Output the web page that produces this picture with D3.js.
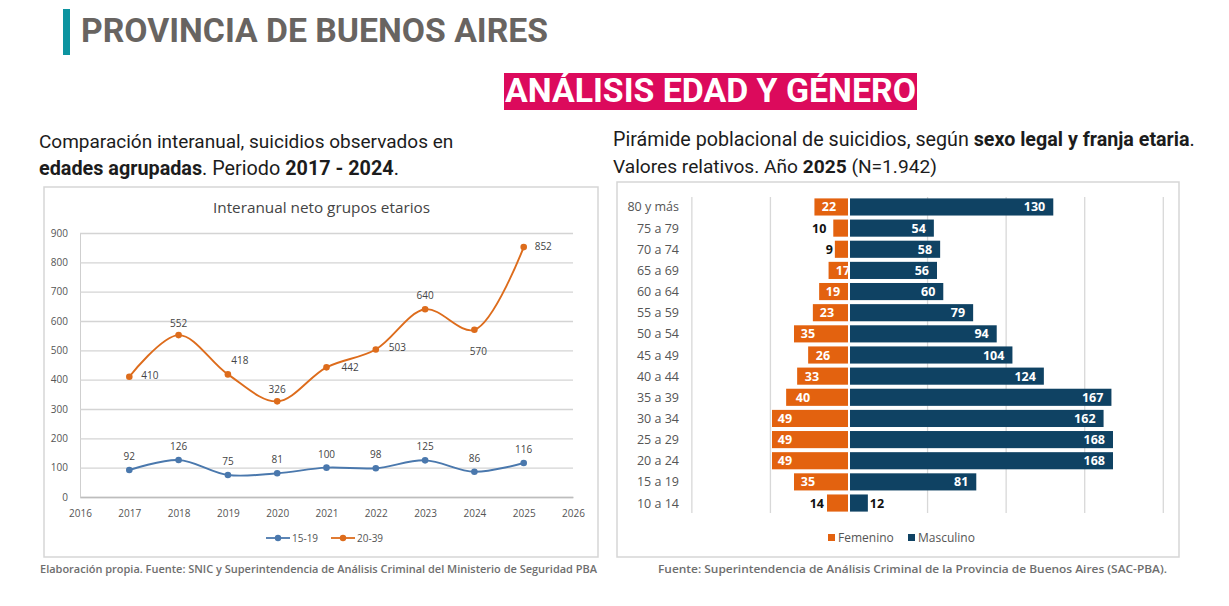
<!DOCTYPE html>
<html><head><meta charset="utf-8">
<script src="https://cdnjs.cloudflare.com/ajax/libs/d3/7.8.5/d3.min.js"></script>
<style>html,body{margin:0;padding:0;background:#fff}svg{display:block}</style></head>
<body><svg id="c" width="1229" height="606"></svg>
<script>
const years=[2017,2018,2019,2020,2021,2022,2023,2024,2025];
const yearTicks=[2016,2017,2018,2019,2020,2021,2022,2023,2024,2025,2026];
const valueTicks=[0,100,200,300,400,500,600,700,800,900];
const group1519=[92,126,75,81,100,98,125,86,116];
const group2039=[410,552,418,326,442,503,640,570,852];
const ageBands=["80 y más","75 a 79","70 a 74","65 a 69","60 a 64","55 a 59","50 a 54","45 a 49","40 a 44","35 a 39","30 a 34","25 a 29","20 a 24","15 a 19","10 a 14"];
const femenino=[22,10,9,13,19,23,35,26,33,40,49,49,49,35,14];
const femeninoLabels=["22","10","9","17","19","23","35","26","33","40","49","49","49","35","14"];
const masculino=[130,54,58,56,60,79,94,104,124,167,162,168,168,81,12];
const pyramidGrid=[-100,-50,50,100,150,200];
const FONT="Roboto,sans-serif", CH="'Open Sans',sans-serif";
const svg=d3.select("#c");
const T=(x,y,s,o={})=>{const t=svg.append("text").attr("x",x).attr("y",y).attr("font-family",o.f||FONT)
 .attr("font-size",o.s||12).attr("font-weight",o.w||400).attr("fill",o.c||"#333").attr("text-anchor",o.a||"start").text(s);
 if(o.len)t.attr("textLength",o.len).attr("lengthAdjust","spacingAndGlyphs");return t;};
const rich=(x,y,parts,s)=>{const t=svg.append("text").attr("x",x).attr("y",y).attr("font-family",FONT).attr("font-size",s).attr("fill","#1c1c1c");
 parts.forEach(([p,b])=>t.append("tspan").attr("font-weight",b?700:400).text(p));};
svg.append("rect").attr("x",63).attr("y",9).attr("width",7).attr("height",46).attr("fill","#0d94a0");
T(81,42,"PROVINCIA DE BUENOS AIRES",{s:33,w:700,c:"#686461",len:467});
svg.append("rect").attr("x",504).attr("y",73).attr("width",413).attr("height",37).attr("fill","#dc0a5c");
T(505,102,"ANÁLISIS EDAD Y GÉNERO",{s:33,w:700,c:"#fff",len:411});
rich(39,148,[["Comparación interanual, suicidios observados en",0]],19);
rich(39,175,[["edades agrupadas",1],[". Periodo ",0],["2017 - 2024",1],[".",0]],19.8);
rich(613,146,[["Pirámide poblacional de suicidios, según ",0],["sexo legal y franja etaria",1],[".",0]],19.7);
rich(613,173,[["Valores relativos. Año ",0],["2025",1],[" (N=1.942)",0]],19.15);
// frames
svg.append("rect").attr("x",44).attr("y",187).attr("width",554).attr("height",370).attr("fill","#fff").attr("stroke","#d6d6d6").attr("stroke-width",1.5);
svg.append("rect").attr("x",617).attr("y",182).attr("width",562).attr("height",375).attr("fill","#fff").attr("stroke","#d6d6d6").attr("stroke-width",1.5);
// line chart
T(213,213,"Interanual neto grupos etarios",{s:14,c:"#444",f:CH,len:217});
const x=d3.scaleLinear().domain([2016,2026]).range([80,573]);
const y=d3.scaleLinear().domain([0,900]).range([497,233]);
const gy=svg.append("g").attr("transform","translate(80,0)").call(d3.axisLeft(y).tickValues(valueTicks).tickSize(-493).tickFormat(d3.format("d")));
gy.select(".domain").attr("stroke","#cfcfcf");
gy.selectAll("line").attr("stroke","#d4d4d4").attr("stroke-width",1.4);
gy.selectAll("text").attr("font-family",CH).attr("font-size",10).attr("fill","#555").attr("dx",-9);
const gx=svg.append("g").attr("transform","translate(0,497)").call(d3.axisBottom(x).tickValues(yearTicks).tickSize(0).tickFormat(d3.format("d")));
gx.select(".domain").attr("stroke","#bdbdbd").attr("stroke-width",1.4);
gx.selectAll("text").attr("font-family",CH).attr("font-size",10).attr("fill","#555").attr("dy",17);
const line=d3.line().curve(d3.curveCatmullRom.alpha(0.5)).x((d,i)=>x(years[i])).y(d=>y(d));
const BLUE="#4a78ad",OR="#dd6c1c";
[[group1519,BLUE],[group2039,OR]].forEach(([v,c])=>{
 svg.append("path").attr("d",line(v)).attr("fill","none").attr("stroke",c).attr("stroke-width",1.9);
 svg.selectAll(null).data(v).enter().append("circle").attr("cx",(d,i)=>x(years[i])).attr("cy",d=>y(d)).attr("r",3.3).attr("fill",c);
});
const lblOff2039=[[12,2,"start"],[0,-8,"middle"],[12,-10,"middle"],[0,-8,"middle"],[15,4,"start"],[13,2,"start"],[0,-10,"middle"],[4,25,"middle"],[11,3,"start"]];
group2039.forEach((d,i)=>{const o=lblOff2039[i];T(x(years[i])+o[0],y(d)+o[1],d,{s:10,c:"#444",a:o[2],f:CH});});
group1519.forEach((d,i)=>T(x(years[i]),y(d)-10,d,{s:10,c:"#444",a:"middle",f:CH}));
[[266,"15-19",BLUE],[331,"20-39",OR]].forEach(([lx,n,c])=>{
 svg.append("line").attr("x1",lx).attr("x2",lx+24).attr("y1",538).attr("y2",538).attr("stroke",c).attr("stroke-width",1.8);
 svg.append("circle").attr("cx",lx+12).attr("cy",538).attr("r",3.2).attr("fill",c);
 T(lx+26,541.5,n,{s:10,c:"#555",f:CH});
});
T(40,573,"Elaboración propia. Fuente: SNIC y Superintendencia de Análisis Criminal del Ministerio de Seguridad PBA",{s:11,w:600,c:"#6e6e6e",f:CH,len:557});
// pyramid
const px=d3.scaleLinear().domain([0,168]).range([849,1113]);
const py=d3.scaleBand().domain(ageBands).range([196.5,513.5]).paddingInner(0.19).paddingOuter(0.09);
svg.append("g").selectAll("line").data(pyramidGrid).enter().append("line")
 .attr("x1",d=>px(d)).attr("x2",d=>px(d)).attr("y1",197).attr("y2",513).attr("stroke","#d8d8d8").attr("stroke-width",1.3);
const NAVY="#0f4263",ORB="#e3620f";
const outsideGap={10:7,9:2,14:3};
const insideCentre={22:829,19:833,23:827,26:823,33:812,35:808,40:803,49:785};
svg.selectAll(null).data(ageBands).enter().append("rect").attr("x",(d,i)=>px(-femenino[i])).attr("y",d=>py(d))
 .attr("width",(d,i)=>px(0)-px(-femenino[i])-1).attr("height",py.bandwidth()).attr("fill",ORB);
ageBands.forEach((a,i)=>{
 const cy=py(a)+py.bandwidth()/2+4.5, f=femenino[i], lab=femeninoLabels[i];
 T(679,cy,a,{s:12.5,c:"#555",a:"end",f:CH});
 if(outsideGap[f]!==undefined) T(px(-f)-outsideGap[f],cy,lab,{s:12.5,w:700,c:"#111",a:"end",f:CH});
 else T(insideCentre[f]||843,cy,lab,{s:12.5,w:700,c:"#fff",a:"middle",f:CH});
});
svg.selectAll(null).data(ageBands).enter().append("rect").attr("x",px(0)+1).attr("y",d=>py(d))
 .attr("width",(d,i)=>px(masculino[i])-px(0)-1).attr("height",py.bandwidth()).attr("fill",NAVY);
ageBands.forEach((a,i)=>{
 const cy=py(a)+py.bandwidth()/2+4.5, m=masculino[i];
 if(m===12) T(px(m)+2,cy,m,{s:12.5,w:700,c:"#111",f:CH});
 else T(px(m)-8,cy,m,{s:12.5,w:700,c:"#fff",a:"end",f:CH});
});
[[828,"Femenino",ORB],[908,"Masculino",NAVY]].forEach(([lx,n,c])=>{
 svg.append("rect").attr("x",lx).attr("y",534).attr("width",7).attr("height",7).attr("fill",c);
 T(lx+10,541.5,n,{s:12,c:"#555",f:CH});
});
T(658,573,"Fuente: Superintendencia de Análisis Criminal de la Provincia de Buenos Aires (SAC-PBA).",{s:11.5,w:600,c:"#6e6e6e",f:CH,len:509});
</script></body></html>
